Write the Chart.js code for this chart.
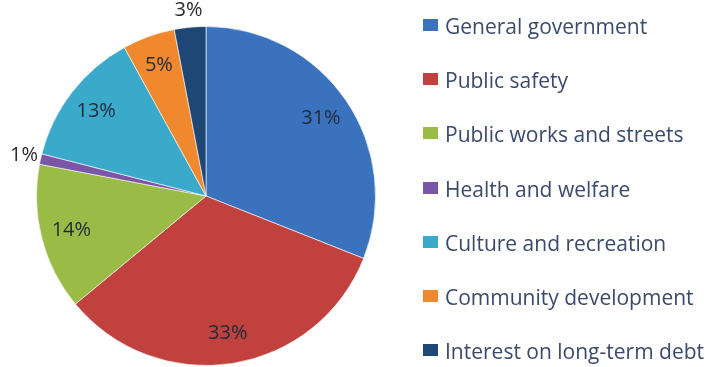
<!DOCTYPE html>
<html>
<head>
<meta charset="utf-8">
<script src="https://cdn.jsdelivr.net/npm/chart.js@4/dist/chart.umd.min.js"></script>
<style>
  html, body { margin: 0; padding: 0; background: #fff; }
  #wrap { position: relative; width: 712px; height: 367px; }
  #legend { position: absolute; left: 423px; top: 0; font-family: "Open Sans", sans-serif; font-size: 21px; color: #3b4a6b; }
  #legend div { position: absolute; white-space: nowrap; height: 24px; line-height: 24px; }
  #legend span.box { position: absolute; left: 0; top: 6px; width: 15px; height: 12px; }
  #legend span.txt { position: absolute; left: 22px; top: 1px; }
</style>
</head>
<body>
<div id="wrap">
  <canvas id="chart" width="712" height="367"></canvas>
  <div id="legend"></div>
</div>
<script>
// spending by function, share of total (%)
const categories = ["General government", "Public safety", "Public works and streets", "Health and welfare", "Culture and recreation", "Community development", "Interest on long-term debt"];
const shares = [31, 33, 14, 1, 13, 5, 3];
const pctLabels = ["31%", "33%", "14%", "1%", "13%", "5%", "3%"];
const colors = ["#3b72bd", "#c0413d", "#9bbb47", "#7c56a6", "#3ba9c9", "#f0892d", "#1f4775"];

// percent labels: inside at ~0.82R, small slices outside
const pieLabels = {
  id: 'pieLabels',
  afterDatasetsDraw(chart) {
    const ctx = chart.ctx;
    const meta = chart.getDatasetMeta(0);
    ctx.save();
    ctx.font = '20px "Open Sans", sans-serif';
    ctx.textAlign = 'center';
    ctx.textBaseline = 'middle';
    meta.data.forEach((arc, i) => {
      const p = arc.getProps(['x', 'y', 'startAngle', 'endAngle', 'outerRadius'], true);
      const mid = (p.startAngle + p.endAngle) / 2;
      const r = shares[i] < 4 ? p.outerRadius * 1.1 : p.outerRadius * 0.82;
      ctx.fillStyle = shares[i] < 4 ? '#2a2a2a' : '#1f2a3c';
      ctx.fillText(pctLabels[i], p.x + Math.cos(mid) * r, p.y + Math.sin(mid) * r);
    });
    ctx.restore();
  }
};

const chart = new Chart(document.getElementById('chart'), {
  type: 'pie',
  data: {
    labels: categories,
    datasets: [{
      data: shares,
      backgroundColor: colors,
      borderColor: 'rgba(255,255,255,0.6)',
      borderWidth: 1
    }]
  },
  options: {
    responsive: false,
    animation: false,
    layout: { padding: { left: 36, right: 336, top: 26, bottom: 1 } },
    plugins: {
      legend: { display: false },
      tooltip: { enabled: false }
    }
  },
  plugins: [pieLabels]
});

// legend built from the same arrays
const legend = document.getElementById('legend');
categories.forEach((name, i) => {
  const item = document.createElement('div');
  item.style.top = (13 + i * 54.2) + 'px';
  item.innerHTML = '<span class="box" style="background:' + colors[i] + '"></span><span class="txt"></span>';
  item.querySelector('.txt').textContent = name;
  legend.appendChild(item);
});
</script>
</body>
</html>
